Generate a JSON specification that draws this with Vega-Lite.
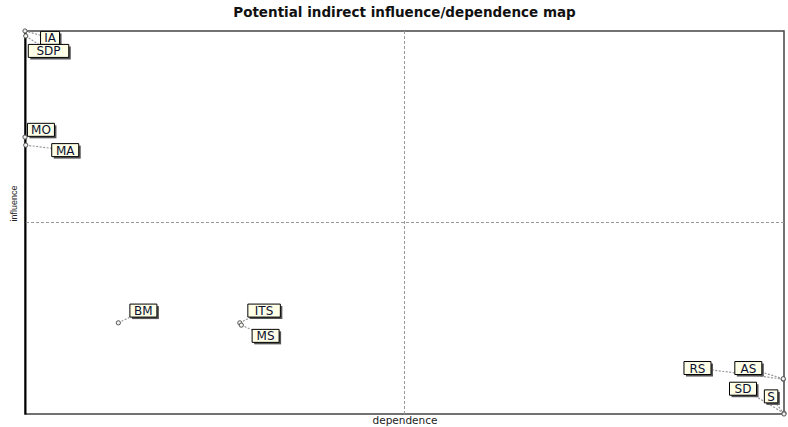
{
  "$schema": "https://vega.github.io/schema/vega-lite/v6.json",
  "width": 759,
  "height": 383,
  "autosize": "none",
  "padding": {"left": 25, "top": 31, "right": 4, "bottom": 13},
  "background": "white",
  "config": {
    "view": {"stroke": "#444", "strokeWidth": 1.5},
    "font": "Liberation Sans"
  },
  "title": {
    "text": "Potential indirect influence/dependence map",
    "fontSize": 13.5,
    "fontWeight": "bold",
    "font": "DejaVu Sans",
    "color": "#111",
    "offset": 7,
    "anchor": "middle"
  },
  "data": {
    "values": [
      {"label": "IA", "dep": 0, "inf": 100, "ldep": 3.3, "linf": 98.2},
      {"label": "SDP", "dep": 0.1, "inf": 98.7, "ldep": 3.1, "linf": 94.8},
      {"label": "MO", "dep": 0, "inf": 72.3, "ldep": 2.1, "linf": 74.2},
      {"label": "MA", "dep": 0.1, "inf": 70.2, "ldep": 5.3, "linf": 68.9},
      {"label": "BM", "dep": 12.3, "inf": 23.8, "ldep": 15.6, "linf": 27.0},
      {"label": "ITS", "dep": 28.3, "inf": 23.8, "ldep": 31.5, "linf": 27.0},
      {"label": "MS", "dep": 28.5, "inf": 23.2, "ldep": 31.7, "linf": 20.4},
      {"label": "RS", "dep": 99.9, "inf": 9.1, "ldep": 88.6, "linf": 12.0},
      {"label": "AS", "dep": 99.9, "inf": 9.2, "ldep": 95.3, "linf": 12.0},
      {"label": "SD", "dep": 100, "inf": 0.2, "ldep": 94.6, "linf": 6.6},
      {"label": "S", "dep": 100, "inf": 0, "ldep": 98.3, "linf": 4.6}
    ]
  },
  "encoding": {
    "x": {"type": "quantitative"},
    "y": {"type": "quantitative"}
  },
  "layer": [
    {
      "mark": {"type": "rule", "color": "#999", "strokeDash": [3, 2], "strokeWidth": 1},
      "encoding": {"x": {"datum": 50, "type": "quantitative", "scale": {"domain": [0, 100], "nice": false, "zero": false}, "axis": {"labels": false, "ticks": false, "domain": false, "grid": false, "title": "dependence", "titleFont": "DejaVu Sans", "titleFontSize": 10.5, "titleFontWeight": "normal", "titleColor": "#222", "titlePadding": 1}}}
    },
    {
      "mark": {"type": "rule", "color": "#999", "strokeDash": [3, 2], "strokeWidth": 1},
      "encoding": {"y": {"datum": 50, "type": "quantitative", "scale": {"domain": [0, 100], "nice": false, "zero": false}, "axis": {"labels": false, "ticks": false, "domain": true, "domainColor": "#000", "domainWidth": 2, "grid": false, "title": "influence", "titleFontSize": 9, "titleFontWeight": "normal", "titleColor": "#222", "titlePadding": 7, "titleY": 172}}}
    },
    {
      "mark": {"type": "rule", "color": "#999", "strokeDash": [2, 1.5], "strokeWidth": 1.2},
      "encoding": {
        "x": {"field": "dep", "type": "quantitative"},
        "y": {"field": "inf", "type": "quantitative"},
        "x2": {"field": "ldep"},
        "y2": {"field": "linf"}
      }
    },
    {
      "mark": {"type": "point", "shape": "circle", "filled": false, "fill": "#f4f4f0", "stroke": "#555", "strokeWidth": 1, "size": 18, "opacity": 1},
      "encoding": {
        "x": {"field": "dep", "type": "quantitative"},
        "y": {"field": "inf", "type": "quantitative"}
      }
    },
    {
      "mark": {"type": "rect", "fill": "#555", "height": 13, "width": {"expr": "13.5*length(datum.label) - (indexof(datum.label,'I')>=0 ? 8 : 0)"}},
      "encoding": {
        "x": {"field": "ldep", "type": "quantitative"},
        "y": {"field": "linf", "type": "quantitative"},
        "xOffset": {"value": 2},
        "yOffset": {"value": 2}
      }
    },
    {
      "mark": {"type": "rect", "fill": "#FFFFE8", "stroke": "#000", "strokeWidth": 1, "height": 13, "width": {"expr": "13.5*length(datum.label) - (indexof(datum.label,'I')>=0 ? 8 : 0)"}},
      "encoding": {
        "x": {"field": "ldep", "type": "quantitative"},
        "y": {"field": "linf", "type": "quantitative"}
      }
    },
    {
      "mark": {"type": "text", "fontSize": 12, "font": "DejaVu Sans", "color": "#0a1030", "align": "center", "baseline": "middle", "letterSpacing": 1.2, "dy": 0.5},
      "encoding": {
        "x": {"field": "ldep", "type": "quantitative"},
        "y": {"field": "linf", "type": "quantitative"},
        "text": {"field": "label"}
      }
    }
  ]
}
